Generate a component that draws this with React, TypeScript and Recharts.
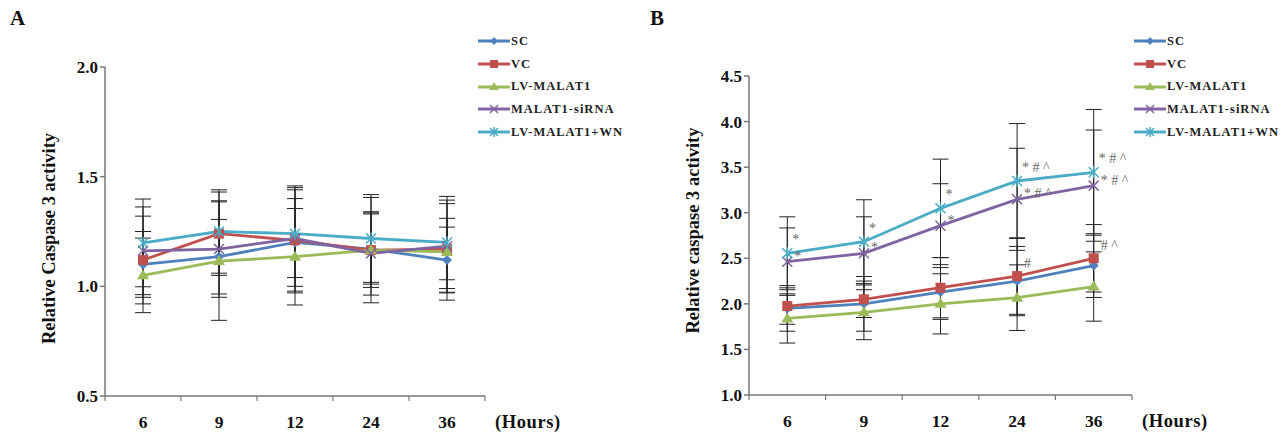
import React from 'react';
import { LineChart, Line, XAxis, YAxis, ErrorBar, Legend, LabelList } from 'recharts';

const hours = ['6', '9', '12', '24', '36'];
const seriesNames = ['SC', 'VC', 'LV-MALAT1', 'MALAT1-siRNA', 'LV-MALAT1+WN'];
const seriesKeys = ['sc', 'vc', 'lv', 'si', 'wn'];
const seriesColors = ['#4F81BD', '#C0504D', '#9BBB59', '#8064A2', '#4BACC6'];
const seriesShapes = ['diamond', 'square', 'triangle', 'x', 'star'];

// Panel A values
const aSC = [1.10, 1.135, 1.20, 1.17, 1.12];
const aVC = [1.12, 1.24, 1.21, 1.165, 1.17];
const aLV = [1.05, 1.115, 1.135, 1.165, 1.157];
const aSI = [1.162, 1.17, 1.218, 1.15, 1.183];
const aWN = [1.198, 1.25, 1.24, 1.218, 1.20];
const aSCErr = [0.15, 0.17, 0.20, 0.16, 0.15];
const aVCErr = [0.20, 0.19, 0.24, 0.17, 0.14];
const aLVErr = [0.17, 0.27, 0.22, 0.24, 0.22];
const aSIErr = [0.20, 0.22, 0.24, 0.19, 0.21];
const aWNErr = [0.20, 0.19, 0.20, 0.20, 0.21];
const aTicks = [0.5, 1.0, 1.5, 2.0];

// Panel B values
const bSC = [1.95, 2.0, 2.13, 2.25, 2.42];
const bVC = [1.976, 2.05, 2.177, 2.305, 2.50];
const bLV = [1.84, 1.907, 2.0, 2.068, 2.19];
const bSI = [2.463, 2.555, 2.858, 3.147, 3.297];
const bWN = [2.555, 2.682, 3.048, 3.348, 3.443];
const bSCErr = [0.25, 0.30, 0.30, 0.38, 0.35];
const bVCErr = [0.20, 0.20, 0.33, 0.42, 0.37];
const bLVErr = [0.27, 0.30, 0.33, 0.36, 0.38];
const bSIErr = [0.37, 0.40, 0.46, 0.56, 0.61];
const bWNErr = [0.40, 0.46, 0.54, 0.63, 0.69];
const bTicks = [1.0, 1.5, 2.0, 2.5, 3.0, 3.5, 4.0, 4.5];
const bWNMarks = ['*', '*', '*', '* # ^', '* # ^'];
const bSIMarks = ['*', '*', '*', '* # ^', '* # ^'];
const bVCMarks = ['', '', '', '#', '# ^'];

const FONT = '"Liberation Serif", "Times New Roman", serif';

const dataA = hours.map((h, i) => ({
  h,
  sc: aSC[i], vc: aVC[i], lv: aLV[i], si: aSI[i], wn: aWN[i],
  scErr: aSCErr[i], vcErr: aVCErr[i], lvErr: aLVErr[i], siErr: aSIErr[i], wnErr: aWNErr[i],
}));

const dataB = hours.map((h, i) => ({
  h,
  sc: bSC[i], vc: bVC[i], lv: bLV[i], si: bSI[i], wn: bWN[i],
  scErr: bSCErr[i], vcErr: bVCErr[i], lvErr: bLVErr[i], siErr: bSIErr[i], wnErr: bWNErr[i],
  wnMark: bWNMarks[i], siMark: bSIMarks[i], vcMark: bVCMarks[i],
}));

function Marker({ shape, cx, cy, color, s = 5 }: any) {
  if (cx == null || cy == null) return null;
  switch (shape) {
    case 'diamond':
      return <polygon points={`${cx},${cy - s} ${cx + s},${cy} ${cx},${cy + s} ${cx - s},${cy}`} fill={color} />;
    case 'square':
      return <rect x={cx - s} y={cy - s} width={2 * s} height={2 * s} fill={color} />;
    case 'triangle':
      return <polygon points={`${cx},${cy - s - 1} ${cx + s + 1},${cy + s - 1} ${cx - s - 1},${cy + s - 1}`} fill={color} />;
    case 'x':
      return <path d={`M${cx - s},${cy - s}L${cx + s},${cy + s}M${cx + s},${cy - s}L${cx - s},${cy + s}`} stroke={color} strokeWidth={1.5} fill="none" />;
    case 'star':
      return <path d={`M${cx - s},${cy - s}L${cx + s},${cy + s}M${cx + s},${cy - s}L${cx - s},${cy + s}M${cx},${cy - s - 1}L${cx},${cy + s + 1}`} stroke={color} strokeWidth={1.5} fill="none" />;
    default:
      return null;
  }
}

const XTick = (props: any) => {
  const { x, y, payload, width, visibleTicksCount, index } = props;
  const n = visibleTicksCount || 5;
  const band = (width || 378) / n;
  return (
    <g>
      <line x1={x - band / 2} y1={y} x2={x - band / 2} y2={y + 5} stroke="#777" strokeWidth={1.2} />
      {index === n - 1 && <line x1={x + band / 2} y1={y} x2={x + band / 2} y2={y + 5} stroke="#777" strokeWidth={1.2} />}
      <text x={x} y={y + 32} textAnchor="middle" fontFamily={FONT} fontWeight="bold" fontSize={17.5} fill="#111">
        {payload.value}
      </text>
    </g>
  );
};

const YTick = (props: any) => {
  const { x, y, payload } = props;
  return (
    <text x={x} y={y + 6} textAnchor="end" fontFamily={FONT} fontWeight="bold" fontSize={17} fill="#111">
      {Number(payload.value).toFixed(1)}
    </text>
  );
};

const LegendContent = (props: any) => {
  const items = [...(props.payload || [])].sort(
    (a: any, b: any) => seriesKeys.indexOf(a.dataKey) - seriesKeys.indexOf(b.dataKey)
  );
  return (
    <div style={{ display: 'flex', flexDirection: 'column' }}>
      {items.map((p: any) => {
        const idx = seriesKeys.indexOf(p.dataKey);
        return (
          <div key={p.dataKey} style={{ display: 'flex', alignItems: 'center', height: 22.7 }}>
            <svg width={32} height={12} style={{ display: 'block' }}>
              <line x1={0} y1={6} x2={32} y2={6} stroke={p.color} strokeWidth={3} />
              <Marker shape={seriesShapes[idx]} cx={16} cy={6} color={p.color} s={4} />
            </svg>
            <span style={{ fontFamily: FONT, fontWeight: 'bold', fontSize: 12.5, color: '#222', letterSpacing: 1, marginLeft: 1, whiteSpace: 'nowrap' }}>
              {p.value}
            </span>
          </div>
        );
      })}
    </div>
  );
};

const makeMark = (dx: number, dy: number) => (p: any) => {
  const { x, y, value } = p;
  if (!value) return null;
  return (
    <text x={x + dx} y={y + dy} fontFamily={FONT} fontSize={14} fill="#666" style={{ whiteSpace: 'pre' }}>
      {value}
    </text>
  );
};
const wnMarkRenderer = makeMark(5, -9);
const siMarkRenderer = makeMark(7, -1);
const vcMarkRenderer = makeMark(7, -8);

function Panel({ data, domain, ticks, yLabel, letter, left, width, margin, legendLeft, annotate, labelShift }: any) {
  return (
    <div style={{ position: 'absolute', left, top: 0, width, height: 435 }}>
      <div style={{ position: 'absolute', left: 10, top: 6, fontFamily: FONT, fontWeight: 'bold', fontSize: 21, color: '#111' }}>{letter}</div>
      <LineChart width={width} height={435} data={data} margin={margin}>
        <XAxis
          dataKey="h"
          scale="band"
          stroke="#777"
          strokeWidth={1.5}
          tickLine={false}
          tickSize={0}
          tickMargin={0}
          height={30}
          tick={<XTick />}
          interval={0}
          label={{
            content: (lp: any) => {
              const vb = lp.viewBox || {};
              return (
                <text x={vb.x + vb.width + 10} y={vb.y + 32} fontFamily={FONT} fontWeight="bold" fontSize={18.5} letterSpacing={0.6} fill="#111">
                  (Hours)
                </text>
              );
            },
          }}
        />
        <YAxis
          domain={domain}
          ticks={ticks}
          stroke="#777"
          strokeWidth={1.5}
          tickSize={5}
          tickMargin={2}
          width={60}
          tick={<YTick />}
          allowDataOverflow
          label={{
            content: (lp: any) => {
              const vb = lp.viewBox || {};
              const cx = vb.x + vb.width - 56;
              const cy = vb.y + vb.height / 2 + labelShift;
              return (
                <text x={cx} y={cy} transform={`rotate(-90, ${cx}, ${cy})`} textAnchor="middle" dominantBaseline="central" fontFamily={FONT} fontWeight="bold" fontSize={18.5} fill="#111">
                  {yLabel}
                </text>
              );
            },
          }}
        />
        <Legend
          layout="vertical"
          align="center"
          verticalAlign="middle"
          content={<LegendContent />}
          wrapperStyle={{ left: legendLeft, top: 30, width: 170, height: 120 }}
        />
        {seriesKeys.map((k, i) => (
          <Line
            key={k}
            dataKey={k}
            name={seriesNames[i]}
            stroke={seriesColors[i]}
            strokeWidth={2.8}
            isAnimationActive={false}
            dot={(dp: any) => <Marker key={`${k}-${dp.index}`} shape={seriesShapes[i]} cx={dp.cx} cy={dp.cy} color={seriesColors[i]} s={5} />}
            activeDot={false}
            legendType="line"
          >
            <ErrorBar dataKey={`${k}Err`} width={8} stroke="#222" strokeWidth={1} direction="y" />
            {annotate && k === 'wn' && <LabelList dataKey="wnMark" content={wnMarkRenderer} />}
            {annotate && k === 'si' && <LabelList dataKey="siMark" content={siMarkRenderer} />}
            {annotate && k === 'vc' && <LabelList dataKey="vcMark" content={vcMarkRenderer} />}
          </Line>
        ))}
      </LineChart>
    </div>
  );
}

export default function App() {
  return (
    <div style={{ position: 'absolute', left: 0, top: 0, width: 1281, height: 435, background: '#fff', overflow: 'hidden' }}>
      <Panel
        data={dataA}
        domain={[0.5, 2.0]}
        ticks={aTicks}
        yLabel="Relative Caspase 3 activity"
        letter="A"
        left={0}
        width={640}
        margin={{ top: 67, right: 155, bottom: 9, left: 45 }}
        legendLeft={478}
        annotate={false}
        labelShift={7}
      />
      <Panel
        data={dataB}
        domain={[1.0, 4.5]}
        ticks={bTicks}
        yLabel="Relative caspase 3 activity"
        letter="B"
        left={640}
        width={641}
        margin={{ top: 76, right: 149, bottom: 10, left: 49 }}
        legendLeft={494}
        annotate={true}
        labelShift={-5}
      />
    </div>
  );
}
